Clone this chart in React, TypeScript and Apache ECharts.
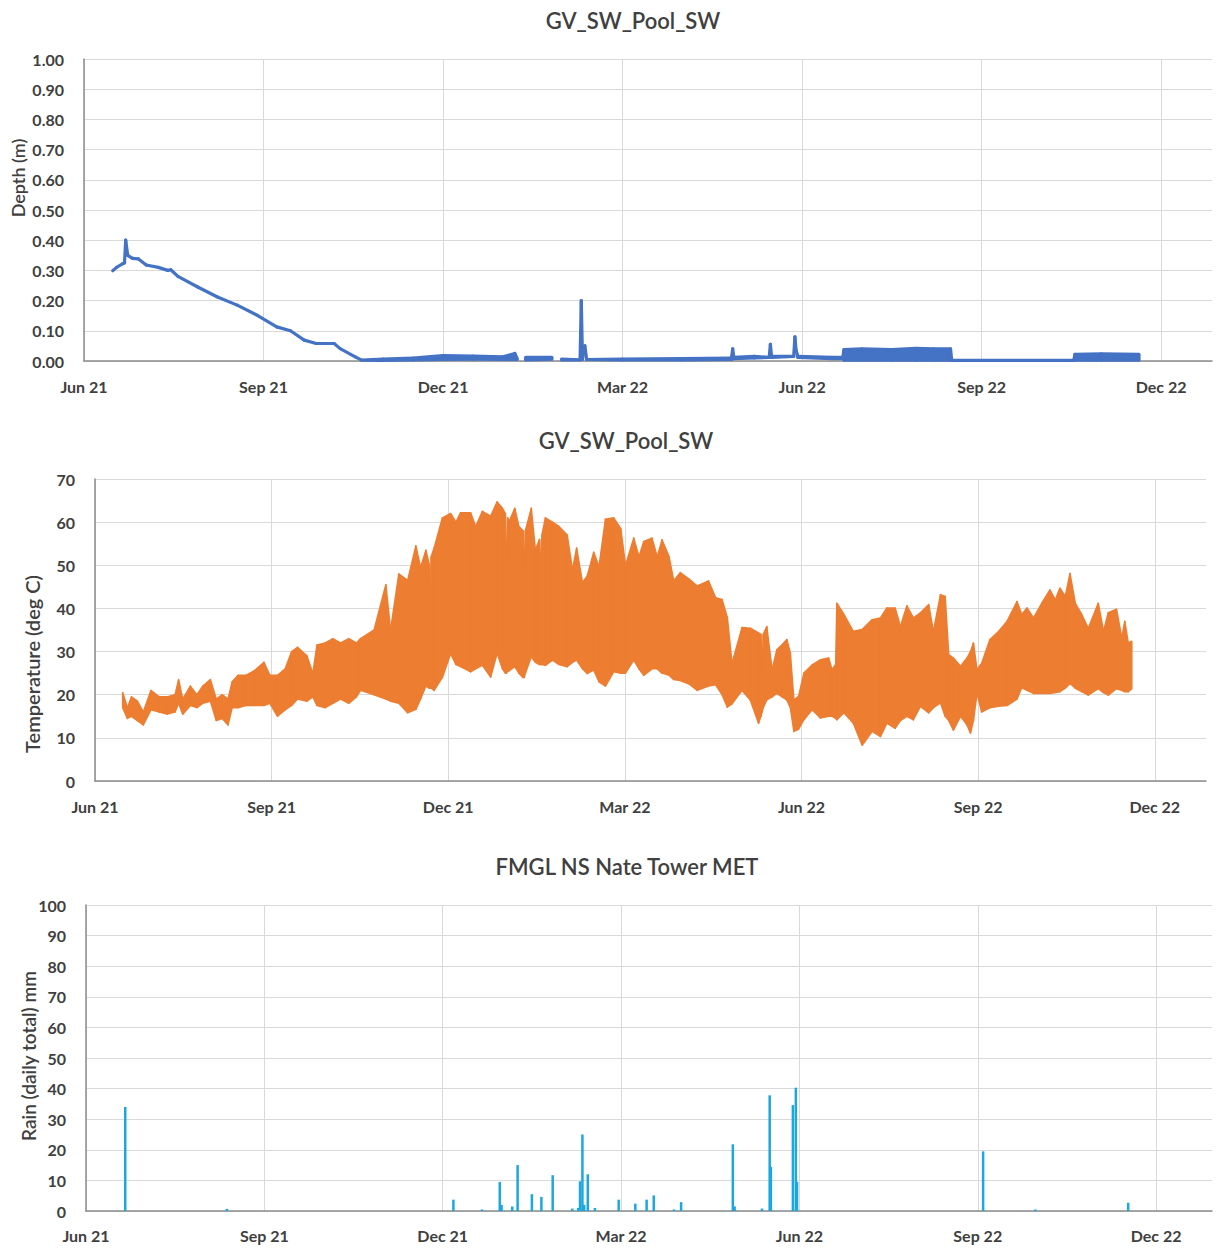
import React, { useEffect, useRef } from "react";
import * as echarts from "echarts";

// x values are months since 1 Jun 2021 (Jun 21 = 0, Sep 21 = 3, ... Dec 22 = 18)
const quarterLabels = ["Jun 21", "Sep 21", "Dec 21", "Mar 22", "Jun 22", "Sep 22", "Dec 22"];

const depthTicks = [0, 0.1, 0.2, 0.3, 0.4, 0.5, 0.6, 0.7, 0.8, 0.9, 1.0];
const tempTicks = [0, 10, 20, 30, 40, 50, 60, 70];
const rainTicks = [0, 10, 20, 30, 40, 50, 60, 70, 80, 90, 100];

// [month, low, high] depth (m); null = gap in record
const depthReadings: [number, number | null, number | null][] = [
  [0.48, 0.299, 0.299], [0.545, 0.31, 0.31], [0.644, 0.322, 0.322], [0.677, 0.325, 0.325],
  [0.697, 0.4, 0.4], [0.73, 0.35, 0.35], [0.81, 0.34, 0.34], [0.91, 0.338, 0.338],
  [1.04, 0.318, 0.318], [1.24, 0.31, 0.31], [1.4, 0.3, 0.3], [1.45, 0.302, 0.302],
  [1.57, 0.28, 0.28], [1.9, 0.245, 0.245], [2.23, 0.212, 0.212], [2.56, 0.185, 0.185],
  [2.89, 0.152, 0.152], [3.22, 0.113, 0.113], [3.45, 0.1, 0.1], [3.68, 0.069, 0.069],
  [3.88, 0.058, 0.058], [4.18, 0.058, 0.058], [4.28, 0.041, 0.041], [4.54, 0.013, 0.013],
  [4.64, 0.003, 0.003], [5.0, 0.002, 0.006], [5.5, 0.004, 0.01], [6.0, 0.005, 0.018],
  [6.5, 0.006, 0.016], [7.0, 0.005, 0.014], [7.2, 0.005, 0.025], [7.24, 0.005, 0.008],
  [7.26, null, null], [7.38, 0.004, 0.012], [7.82, 0.006, 0.012], [7.85, null, null],
  [7.98, 0.004, 0.006], [8.29, 0.004, 0.004], [8.31, 0.2, 0.2], [8.33, 0.005, 0.005],
  [8.37, 0.05, 0.05], [8.4, 0.005, 0.005], [9.0, 0.004, 0.006], [10.0, 0.004, 0.008],
  [10.82, 0.005, 0.01], [10.84, 0.04, 0.04], [10.86, 0.008, 0.012], [11.2, 0.01, 0.015],
  [11.45, 0.012, 0.012], [11.47, 0.055, 0.055], [11.49, 0.012, 0.015], [11.86, 0.015, 0.015],
  [11.88, 0.08, 0.08], [11.9, 0.035, 0.035], [11.93, 0.012, 0.015], [12.5, 0.008, 0.012],
  [12.68, 0.008, 0.012], [12.7, 0.003, 0.038], [13.0, 0.003, 0.04], [13.5, 0.003, 0.038],
  [13.9, 0.003, 0.042], [14.2, 0.003, 0.04], [14.48, 0.003, 0.04], [14.5, 0.002, 0.002],
  [16.54, 0.002, 0.002], [16.56, 0.003, 0.022], [17.0, 0.003, 0.024], [17.63, 0.003, 0.022],
];

// [month, daily low, daily high] temperature (deg C)
const tempReadings: [number, number, number][] = [
  [0.47, 17, 20.5], [0.55, 14.5, 17], [0.62, 15, 19.5], [0.72, 14, 18.5], [0.82, 13, 16],
  [0.95, 16.5, 21], [1.09, 16, 19.5], [1.22, 15.5, 19.5], [1.36, 16, 20], [1.42, 18, 23.5],
  [1.49, 15.5, 19], [1.62, 17.5, 22], [1.73, 17, 20], [1.83, 18, 22], [1.96, 18.5, 23.5],
  [2.06, 14, 19], [2.16, 14.5, 20], [2.26, 13, 19], [2.33, 17, 23], [2.43, 17, 24.5],
  [2.56, 17.5, 24.5], [2.7, 17.5, 25.5], [2.87, 17.5, 27.5], [2.97, 18, 24.5], [3.1, 15, 24.5],
  [3.23, 16.5, 26], [3.34, 17.5, 30], [3.44, 19, 31], [3.6, 18.5, 29], [3.7, 19.5, 25],
  [3.77, 17.5, 31.5], [3.91, 17, 32], [4.04, 18, 33], [4.17, 19, 32], [4.31, 18, 33],
  [4.44, 19.5, 32], [4.51, 21, 33], [4.74, 20, 35], [4.94, 19, 45.5], [5.02, 18.5, 35],
  [5.16, 18, 48], [5.31, 15.8, 46.5], [5.45, 16.6, 54.5], [5.53, 19, 49.5], [5.62, 22, 53.5],
  [5.68, 21.5, 50], [5.69, 21.5, 33], [5.71, 21.5, 52], [5.76, 21, 54], [5.9, 24, 61],
  [6.04, 29.5, 62], [6.13, 27, 60], [6.21, 26.5, 62.2], [6.38, 25.3, 62.2], [6.465, 26, 59],
  [6.58, 26.8, 62.5], [6.72, 24.1, 61.4], [6.83, 29.6, 64.7], [6.92, 26, 63.2], [6.97, 25, 62],
  [6.99, 25, 51.2], [7.01, 25.5, 61], [7.03, 25.5, 60], [7.13, 26.5, 63.2], [7.2, 25, 59],
  [7.27, 24, 58], [7.29, 24, 49], [7.31, 25, 58], [7.41, 28.8, 63.2], [7.48, 27.5, 53.6],
  [7.55, 27, 56], [7.57, 27, 49.7], [7.59, 27, 57], [7.65, 26.8, 61], [7.77, 28, 60],
  [7.88, 27, 59], [8.02, 26.5, 57], [8.11, 27.5, 49], [8.18, 28, 54], [8.28, 26, 46],
  [8.36, 24.9, 47.5], [8.47, 25.7, 53], [8.56, 23, 49.7], [8.67, 22, 60.7], [8.81, 25.3, 61],
  [8.93, 25, 58.5], [9.01, 25, 50], [9.15, 28, 56.3], [9.24, 26, 52], [9.32, 24.5, 55.5],
  [9.46, 26, 56.3], [9.55, 26, 52], [9.63, 25, 55.9], [9.75, 24.5, 52], [9.83, 23.5, 46.4],
  [9.94, 23.3, 48.3], [10.09, 22.5, 46.8], [10.23, 21, 45.2], [10.42, 22, 46.4], [10.54, 22.3, 42.5],
  [10.65, 20, 42.1], [10.74, 17.1, 37.9], [10.82, 17.9, 27.3], [10.99, 21, 35.6], [11.13, 18.8, 35.4],
  [11.27, 13.4, 34.3], [11.31, 15, 34], [11.33, 16, 24.3], [11.35, 17, 34], [11.41, 18.8, 35.8],
  [11.5, 19.5, 25.8], [11.58, 20.3, 30.4], [11.67, 19.5, 31.6], [11.75, 18.8, 32.8], [11.81, 17, 29.7],
  [11.87, 11.5, 18.8], [11.95, 12, 19.6], [12.04, 14.2, 25], [12.18, 16.5, 26.9], [12.32, 14.6, 28.1],
  [12.46, 15, 28.5], [12.52, 15, 25.8], [12.58, 14.5, 27], [12.6, 14.2, 41.2], [12.72, 15.8, 38.6],
  [12.88, 13.4, 34.7], [13.03, 8.3, 35.1], [13.2, 11.5, 37.4], [13.34, 10.3, 37.8], [13.45, 13.4, 40.1],
  [13.59, 12.2, 40.1], [13.68, 14, 35.8], [13.79, 15, 40.6], [13.9, 14.2, 37.8], [14.02, 17.3, 39],
  [14.16, 15.8, 40.9], [14.24, 17, 34.7], [14.36, 18.1, 43.2], [14.44, 15, 42.8], [14.5, 14, 29.3],
  [14.58, 11.8, 28.5], [14.7, 15, 26.6], [14.81, 13, 28.5], [14.87, 11.1, 30], [14.92, 14, 32],
  [14.98, 20.3, 25.8], [15.06, 16, 27.3], [15.2, 17, 32.8], [15.35, 17.3, 34.7], [15.49, 17.5, 37],
  [15.66, 19, 41.6], [15.74, 21.6, 38.6], [15.83, 21, 40.1], [15.94, 20.3, 37.8], [16.08, 20.3, 41.2],
  [16.22, 20.3, 44.3], [16.31, 20.5, 42], [16.39, 20.7, 44.7], [16.48, 21.5, 42.8], [16.56, 22.6, 48.1],
  [16.65, 21.5, 41.2], [16.76, 20.7, 38.6], [16.87, 19.9, 35.4], [17.04, 21.4, 41.2], [17.13, 20.5, 34.7],
  [17.21, 19.9, 39], [17.35, 21.4, 39.8], [17.44, 21, 33.2], [17.49, 20.7, 37], [17.55, 20.7, 32],
  [17.61, 21.4, 32.4],
];

// [month, daily total mm]
const rainEvents: [number, number][] = [
  [0.66, 34], [2.37, 0.7], [6.18, 3.7], [6.66, 0.5], [6.96, 9.5], [6.99, 2], [7.17, 1.5],
  [7.26, 15], [7.5, 5.5], [7.66, 4.6], [7.85, 11.7], [8.18, 0.8], [8.28, 1], [8.31, 9.7],
  [8.35, 25], [8.38, 2], [8.44, 12], [8.56, 1], [8.96, 3.7], [9.24, 2.4], [9.43, 3.7],
  [9.55, 5.1], [9.89, 0.5], [10.01, 2.9], [10.88, 21.8], [10.91, 1.5], [11.37, 0.8],
  [11.5, 37.8], [11.52, 14.4], [11.89, 34.6], [11.94, 40.3], [11.96, 9.5], [15.09, 19.5],
  [15.97, 0.5], [17.53, 2.7],
];

const FONT = "Lato, 'Open Sans', sans-serif";
const LABEL_COLOR = "#404040";
const GRID_COLOR = "#d9d9d9";
const AXIS_COLOR = "#8c8c8c";

function bandSeries(
  readings: [number, number | null, number | null][],
  color: string,
  idx: number,
  lw: number
) {
  return {
    type: "custom",
    xAxisIndex: idx,
    yAxisIndex: idx,
    silent: true,
    data: readings.map((r) => [r[0], r[1] ?? 0, r[2] ?? 0]),
    encode: { x: 0, y: [1, 2] },
    renderItem: (params: any, api: any) => {
      const i = params.dataIndex;
      if (i >= readings.length - 1) return { type: "group", children: [] };
      const a = readings[i];
      const b = readings[i + 1];
      if (a[1] == null || b[1] == null || a[2] == null || b[2] == null)
        return { type: "group", children: [] };
      const p1 = api.coord([a[0], a[2]]);
      const p2 = api.coord([b[0], b[2]]);
      const p3 = api.coord([b[0], b[1]]);
      const p4 = api.coord([a[0], a[1]]);
      return {
        type: "polygon",
        shape: { points: [p1, p2, p3, p4] },
        style: { fill: color, stroke: color, lineWidth: lw, lineJoin: "round" },
      };
    },
  };
}

function xAxisFor(idx: number, max: number, margin: number) {
  return {
    type: "value",
    gridIndex: idx,
    min: 0,
    max,
    interval: 3,
    axisLine: { show: true, lineStyle: { color: AXIS_COLOR, width: 1.5 } },
    axisTick: { show: false },
    splitLine: { show: true, showMaxLine: false, lineStyle: { color: GRID_COLOR, width: 1 } },
    axisLabel: {
      margin,
      fontFamily: FONT,
      fontWeight: "bold",
      fontSize: 16,
      color: LABEL_COLOR,
      showMaxLabel: false,
      formatter: (v: number) => {
        const k = Math.round(v / 3);
        return Math.abs(v - k * 3) < 1e-6 && quarterLabels[k] ? quarterLabels[k] : "";
      },
    },
  };
}

function yAxisFor(idx: number, ticks: number[], decimals: number) {
  return {
    type: "value",
    gridIndex: idx,
    min: ticks[0],
    max: ticks[ticks.length - 1],
    interval: ticks[1] - ticks[0],
    axisLine: { show: true, lineStyle: { color: AXIS_COLOR, width: 1.5 } },
    axisTick: { show: false },
    splitLine: { show: true, lineStyle: { color: GRID_COLOR, width: 1 } },
    axisLabel: {
      margin: 20,
      fontFamily: FONT,
      fontWeight: "bold",
      fontSize: 16,
      color: LABEL_COLOR,
      formatter: (v: number) => v.toFixed(decimals),
    },
  };
}

function titleText(text: string, x: number, y: number) {
  return {
    type: "text",
    x,
    y,
    style: {
      text,
      fontFamily: FONT,
      fontSize: 22,
      fontWeight: 600,
      fill: "#404040",
      align: "center",
      verticalAlign: "middle",
    },
  };
}

function axisName(text: string, x: number, y: number, size: number) {
  return {
    type: "text",
    x,
    y,
    rotation: Math.PI / 2,
    style: {
      text,
      fontFamily: FONT,
      fontSize: size,
      fontWeight: 600,
      fill: "#404040",
      align: "center",
      verticalAlign: "middle",
    },
  };
}

export default function App() {
  const ref = useRef<HTMLDivElement>(null);

  useEffect(() => {
    if (!ref.current) return;
    const chart = echarts.init(ref.current, null, { renderer: "svg" });
    chart.setOption({
      animation: false,
      backgroundColor: "#ffffff",
      grid: [
        { left: 84, top: 59, width: 1128, height: 302 },
        { left: 95, top: 479, width: 1111, height: 302 },
        { left: 86, top: 905, width: 1126, height: 306 },
      ],
      xAxis: [xAxisFor(0, 18.85, 17), xAxisFor(1, 18.87, 17), xAxisFor(2, 18.94, 16)],
      yAxis: [yAxisFor(0, depthTicks, 2), yAxisFor(1, tempTicks, 0), yAxisFor(2, rainTicks, 0)],
      graphic: [
        titleText("GV_SW_Pool_SW", 633, 20),
        titleText("GV_SW_Pool_SW", 626, 440),
        titleText("FMGL NS Nate Tower MET", 627, 866),
        axisName("Depth (m)", 18, 178, 18),
        axisName("Temperature (deg C)", 32, 664, 20),
        axisName("Rain (daily total) mm", 28, 1056, 19),
      ],
      series: [
        bandSeries(depthReadings, "#4472c4", 0, 3.2),
        bandSeries(tempReadings, "#ed7d31", 1, 1.5),
        {
          type: "bar",
          xAxisIndex: 2,
          yAxisIndex: 2,
          barWidth: 2.5,
          silent: true,
          itemStyle: { color: "#1ba7e0" },
          data: rainEvents,
        },
      ],
    });
    return () => chart.dispose();
  }, []);

  return (
    <div
      ref={ref}
      style={{ position: "absolute", left: 0, top: 0, width: 1218, height: 1251, background: "#fff" }}
    />
  );
}
